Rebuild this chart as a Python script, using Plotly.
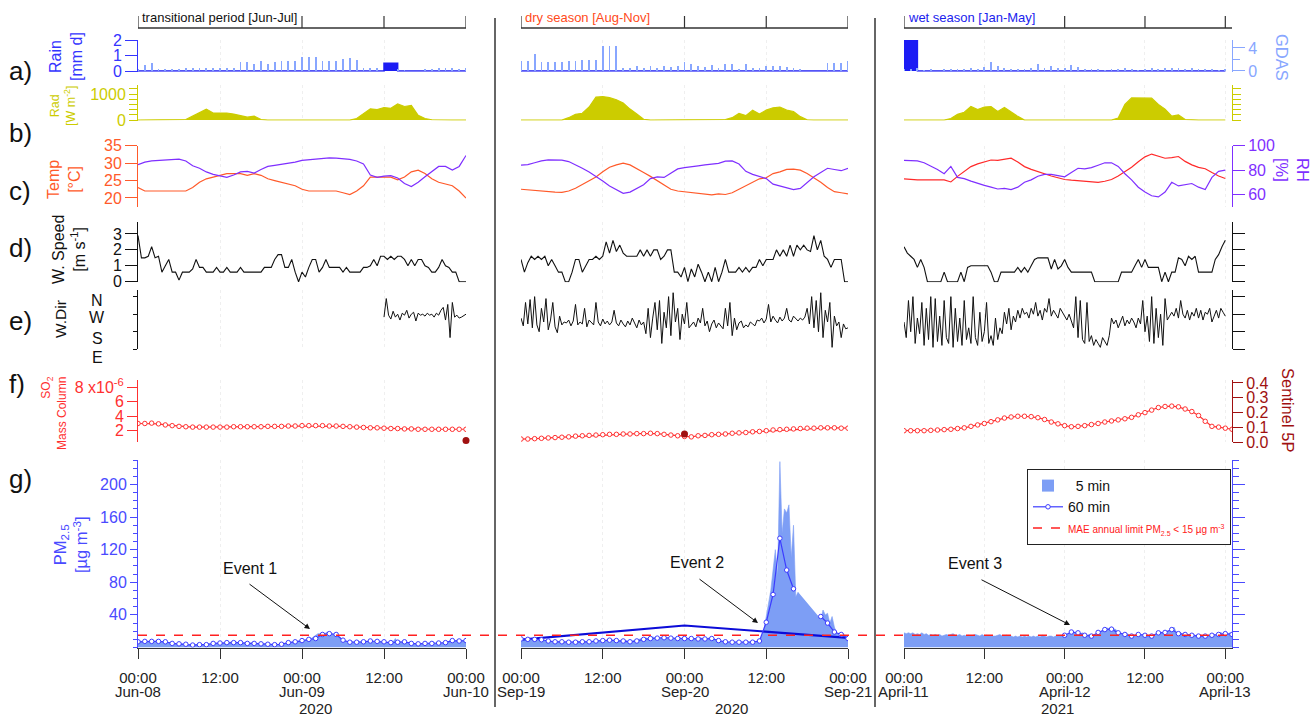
import plotly.graph_objects as go
import pandas as pd

W, H = 1312, 716
FONT = "Liberation Sans, Arial, sans-serif"


def px(x):
    return x / W


def py(y):
    return 1 - y / H


# ------------------------------------------------------------------ data
col_starts = ["2020-06-08 00:00", "2020-09-19 00:00", "2021-04-11 00:00"]
col_ends = ["2020-06-10 00:00", "2020-09-21 00:00", "2021-04-13 01:00"]
bottom_tick_labels = ["00:00", "12:00", "00:00", "12:00", "00:00"]
date_labels = [["Jun-08", "Jun-09", "Jun-10"],
               ["Sep-19", "Sep-20", "Sep-21"],
               ["April-11", "April-12", "April-13"]]
date_label_hours = [0, 24, 48]
year_labels = ["2020", "2020", "2021"]
season_labels = ["transitional period [Jun-Jul]", "dry season [Aug-Nov]", "wet season [Jan-May]"]
top_tick_hours = [0, 24, 36, 48]

# a) rain (hourly, mm d) and GDAS (hourly)
rain_c1 = [0,0,0,0,0,0,0,0,0,0,0,0, 0,0,0,0,0,0,0,0,0,0,0,0, 0,0,0,0,0,0,0,0,0,0,0,0, 0.5,0.5,0,0,0,0,0,0,0,0,0,0, 0]
rain_c2 = [0,0,0,0,0,0,0,0,0,0,0,0, 0,0,0,0,0,0,0,0,0,0,0,0, 0,0,0,0,0,0,0,0,0,0,0,0, 0,0,0,0,0,0,0,0,0,0,0,0, 0]
rain_c3 = [2.2,2.2,0,0,0,0,0,0,0,0,0,0, 0,0,0,0,0,0,0,0,0,0,0,0, 0,0,0,0,0,0,0,0,0,0,0,0, 0,0,0,0,0,0,0,0,0,0,0,0, 0]
gdas_c1 = [0.3,1.0,1.45,0.35,0.35,0.35,0.35,0.45,0.55,0.55,0.55,0.55, 0.55,0.55,0.55,1.6,1.6,1.3,1.75,1.3,1.6,1.75,1.75,1.75,
           2.5,2.5,2.4,1.75,1.75,1.75,2.0,2.2,1.9,0.45,0.45,0.45, 0,0,0.35,0.17,0,0,0.35,0.35,0.45,0.55,0.45,0.35, 0.45]
gdas_c2 = [1.75,1.75,2.9,1.6,1.6,1.6,1.6,1.75,1.75,1.9,1.9,1.9, 4.4,4.4,4.4,0.6,0.5,0.8,0.6,0.9,0.6,0.8,0.7,0.9,
           1.6,1.3,0.8,0.7,1.0,0.6,1.3,1.3,0.3,1.2,0.5,0.6, 0.8,0.9,0.8,0.7,0.6,0.2,0,0,0,1.45,1.45,1.45, 1.75]
gdas_c3 = [0.3,0.4,0.5,0.1,0.2,0.0,0.3,0.3,0.4,0.3,0.5,0.3, 0.7,1.6,0.9,0.5,0.4,0.2,0.3,0.6,1.3,0.6,0.8,0.5,
           0.6,1.0,0.7,0.4,0.3,0.2,0.1,0.2,0.4,0.6,0.3,0.1, 0.2,0.5,0.4,0.6,0.5,0.6,0.3,0.6,0.4,0.2,0.3,0.1, 0.2]

# b) radiation (hourly, W m-2)
rad_c1 = [0,0,0,0,0,0,0,20,150,300,420,270, 260,270,230,170,110,150,20,0,0,0,0,0,
          0,0,0,0,0,0,0,0,60,250,430,400, 480,450,620,520,560,180,60,10,0,0,0,0, 0]
rad_c2 = [0,0,0,0,0,0,0,90,220,260,500,880, 900,860,780,650,420,230,30,0,0,0,0,0,
          0,0,0,0,0,0,20,90,250,170,380,230, 380,470,500,380,330,130,10,0,0,0,0,0, 0]
rad_c3 = [0,0,0,0,0,0,0,60,220,300,520,400, 500,520,330,480,300,140,0,0,0,0,0,0,
          0,0,0,0,0,0,0,0,80,600,850,840, 830,840,600,420,150,200,20,0,0,0,0,0, 0]

# c) temperature (°C) and RH (%), hourly
temp_c1 = [23,22,22,22,22,22,22,22,23,24.5,25.5,26, 26.5,27,27,27,26.5,27,26.5,25.5,25,24.5,24,23.5,
           22.5,22,22,22,22,22,21.5,21,22,23.5,26,26, 26,26,25.2,26,27.5,28,27,25.5,24.5,24,23.5,22, 20]
rh_c1 = [84.5,86.5,87.5,88,88.3,88.8,89,87.5,83.5,81.5,78.5,76.5, 75,74,76,78.5,79,77.5,80.5,83,83.8,84.5,85.5,86.5,
         88,88.5,89.3,89.8,90,89.8,89.3,88.8,87.5,85,76,74, 75,75.5,73.5,69,66.5,70,74.5,79,83,83,80,83, 92]
temp_c2 = [22.5,22.3,22.2,22,21.8,21.7,21.6,22,22.8,23.8,24.8,26, 27.5,28.8,29.5,30,29.5,28.5,27.3,26.2,25,23.8,22.5,22,
           21.8,21.5,21.5,21.2,20.9,21.2,21,21.5,22.5,23.5,24.5,25.5, 25.8,27,27.5,28.2,28.3,28,27,25.8,24.5,23,21.8,21.5, 21.2]
rh_c2 = [84,84.5,86,87.5,88.3,88.5,88.2,87,84.5,81.5,78.5,75, 71,67,64,61,62,65,68,73,74.5,74,77.5,81,
         82,83,83.5,84.3,85,85.5,87.3,87.5,85,79,76.5,75, 73,68.5,67,66,64,65,70,74.5,78,81.5,80.5,79.5, 81.5]
temp_c3 = [25.5,25.3,25.2,25.2,25.3,25.2,25.2,24.6,26.2,27.5,29,29.8, 30.3,30.9,30.8,31.2,31.4,30.3,29,28.2,27.5,26.8,26.3,25.8,
           25.3,25.1,24.9,24.7,24.5,24.5,24.8,25.3,26.3,27.5,28.8,30.4, 31.8,32.6,32,31.4,31.6,31.9,30.5,29.5,28.8,28.4,27.3,26.3, 25.6]
rh_c3 = [88,88,87.5,86,83.5,80.5,77,83,74,73,71,69, 67.5,66,64.5,65,64,66,70,72,75,76.5,76.5,75.5,
         74.5,78,81.5,81,82,84,86,86,83,77,72,66, 62,59,58,62,70,67,68,69,66,64,74,79, 80]

# d) wind speed (30-min, m s-1)
ws_c1 = [2.9,1.5,1.5,1.6,2.2,1.5,1.6,0.6,1.0,1.4,0.6,0.6, 0.1,0.6,0.6,0.6,0.8,1.4,0.9,0.9,0.6,0.6,0.6,0.9,
         0.6,0.6,0.9,0.6,0.6,0.6,0.9,0.6,0.6,0.6,0.6,0.6, 0.6,0.9,0.9,0.9,1.4,1.7,1.7,0.9,0.9,1.4,0.6,0.0,
         0.6,0.3,0.9,1.4,1.4,0.6,0.9,1.4,0.9,0.9,0.9,0.9, 0.6,0.9,0.6,0.6,0.6,0.6,0.9,0.9,1.0,1.4,1.0,1.6,
         1.6,1.4,1.6,1.4,1.6,1.6,1.4,1.0,1.4,1.0,1.4,1.4, 1.0,0.9,0.6,0.6,0.9,1.4,1.0,0.9,0.6,0.6,0.0,0.0, 0.0]
ws_c2 = [1.4,0.6,1.2,1.6,1.4,1.6,1.4,1.6,1.0,1.4,1.0,0.6, 0.6,0.0,0.0,0.6,1.4,1.4,0.6,1.0,1.4,1.4,1.6,1.4,
         1.6,2.5,1.8,2.6,1.9,2.3,1.8,1.6,1.6,1.6,1.6,2.0, 1.6,2.0,1.6,2.0,2.0,1.4,1.6,2.0,2.0,0.6,0.6,0.3,
         0.9,0.0,0.8,0.3,1.1,0.6,0.0,0.6,0.0,0.9,0.0,0.6, 1.4,0.6,0.6,0.6,0.9,0.6,0.9,0.6,0.9,0.9,1.4,1.0,
         1.4,1.4,1.4,2.0,1.6,2.0,1.6,2.3,1.6,2.3,2.0,2.3, 2.0,1.9,2.9,2.0,2.6,1.6,1.4,0.9,1.4,1.4,1.4,0.0, 0.0]
ws_c3 = [2.2,1.8,1.6,1.4,0.9,1.4,0.9,0.0,0.0,0.0,0.0,0.0, 0.6,0.0,0.0,0.0,0.0,0.6,0.0,0.9,1.0,1.0,1.0,1.0,
         1.0,1.0,0.6,0.0,0.0,0.6,0.6,0.6,0.6,0.6,0.9,0.6, 0.9,0.6,1.0,1.4,1.5,1.5,1.5,1.5,0.8,1.4,0.8,1.0,
         1.4,0.9,0.6,0.6,0.6,0.6,0.6,0.6,0.6,0.0,0.0,0.0, 0.0,0.0,0.0,0.0,0.0,0.6,0.6,0.6,0.6,1.0,1.4,0.9,
         1.4,0.9,0.9,0.9,0.9,0.0,0.6,0.0,0.6,0.6,1.5,1.4, 1.0,1.6,1.4,1.6,0.6,0.6,0.6,0.6,0.6,1.4,1.7,2.2, 2.6]

# e) wind direction (20-min, degrees); column 1 starts at Jun-09 12:00
wd_c1_start_h = 36
wd_c1 = [255,350,265,245,285,255,270,240,275,265,290,250, 270,280,235,275,265,270,260,275,265,270,255,275,
         265,290,305,240,320,150,330,255,265,250,255,265, 270]
wd_c2 = [250,210,330,220,345,200,360,215,180,300,230,350,190,240,330,205,175,260,215,230,
         225,240,210,235,320,215,230,220,300,205,240,225,215,330,230,210,245,220,235,215,
         230,290,225,210,240,220,205,235,215,250,225,200,240,215,230,
         170,300,150,250,330,190,340,120,280,200,360,160,380,230,300,140,270,220,330,200,
         215,230,205,250,225,300,210,235,180,220,240,200,225,210,195,
         300,210,330,160,250,190,225,235,200,215,205,230,220,210,240,
         235,250,225,245,320,230,260,240,225,255,235,250,300,240,230,260,245,235,250,240,
         255,300,220,360,200,340,180,380,150,290,230,330,100,260,210,230,150,220,195,200]
wd_c3 = [230,150,340,180,360,120,250,170,330,110,300,140,360,100,350,130,260,110,340,150,
         120,360,100,300,130,250,110,340,140,200,120,360,150,110,280,130,180,330,120,160,
         110,250,140,200,170,280,220,300,190,260,230,290,250,300,270,
         280,250,300,270,330,260,290,240,300,280,350,260,290,270,250,300,280,260,240,270,
         230,200,360,150,340,140,120,330,130,160,110,140,120,100,150,
         130,110,160,250,220,240,200,230,260,210,240,220,250,230,200,
         250,220,340,180,260,130,360,120,300,150,270,110,350,240,260,
         280,260,300,250,340,270,250,290,240,280,260,300,250,290,240,280,270,300,230,260,290,250,300,280,260]

# f) SO2 mass column (hourly, x1e-6) and Sentinel 5P points
so2_c1_x1e6 = [3.0,3.0,3.05,2.95,2.8,2.7,2.6,2.55,2.5,2.5,2.5,2.5, 2.5,2.5,2.55,2.55,2.55,2.55,2.55,2.6,2.6,2.6,2.65,2.65,
               2.7,2.7,2.7,2.7,2.65,2.65,2.6,2.55,2.5,2.45,2.4,2.4, 2.35,2.3,2.3,2.25,2.25,2.2,2.2,2.2,2.2,2.2,2.2,2.2, 2.2]
so2_c2_x1e6 = [0.85,0.85,0.9,0.95,1.0,1.05,1.1,1.15,1.25,1.3,1.35,1.4, 1.45,1.5,1.5,1.55,1.55,1.6,1.6,1.65,1.6,1.5,1.4,1.3,
               1.2,1.15,1.3,1.35,1.45,1.5,1.55,1.65,1.7,1.75,1.85,1.9, 2.0,2.1,2.15,2.2,2.25,2.3,2.35,2.35,2.4,2.4,2.4,2.35, 2.35]
so2_c3_x1e6 = [2.0,2.0,2.0,2.0,2.05,2.1,2.15,2.2,2.3,2.4,2.6,2.8, 3.0,3.25,3.5,3.75,3.9,4.0,4.0,3.95,3.8,3.55,3.2,2.95,
               2.7,2.55,2.6,2.7,2.85,3.0,3.2,3.35,3.5,3.65,3.85,4.2, 4.5,4.85,5.2,5.35,5.4,5.3,5.0,4.65,4.1,3.3,2.6,2.5, 2.35,2.2]
sentinel_hours = [[48], [24], []]
sentinel_vals = [[0.01], [0.055], []]

# g) PM2.5: 5-min record (shown at 20-min steps), 60-min means, daily line
pm5_c1 = [7,8,7, 8,8,7, 8,7,8, 8,7,7, 7,6,6, 5,5,4, 4,5,4, 4,3,4, 3,3,4, 3,4,3, 4,4,4, 5,5,5,
          6,5,6, 6,6,7, 6,7,6, 6,5,6, 5,5,6, 5,4,5, 4,4,5, 4,4,3, 3,4,4, 4,5,5, 6,6,7, 7,8,8,
          9,9,10, 10,11,13, 15,17,17, 18,17,19, 18,17,16, 17,14,11, 9,8,7, 6,7,6, 6,7,7, 7,8,7, 8,7,8, 7,8,7,
          7,6,6, 6,7,11, 6,7,6, 7,6,6, 5,5,4, 5,4,5, 5,5,5, 5,6,5, 6,5,6, 6,7,8, 9,8,9, 8,9,8, 9]
pm5_c2 = [11,10,11, 10,10,11, 10,9,10, 9,8,9, 7,8,7, 7,8,7, 6,7,6, 7,6,7, 7,8,7, 7,8,7, 8,7,8, 9,8,9,
          9,8,9, 10,9,9, 9,8,9, 8,9,8, 7,8,9, 10,10,11, 11,12,11, 12,13,12, 12,11,12, 13,12,11, 11,12,11, 11,12,11,
          11,12,11, 11,10,11, 11,12,11, 10,11,12, 12,11,9, 8,7,7, 6,7,6, 7,6,7, 6,6,7, 6,7,6, 7,6,7, 9,14,22,
          38,52,70, 95,120,88, 228,140,170, 165,175,110, 150,62,68, None,None,None, None,None,None, None,None,None,
          35,46,40, 42,30,38, 25,18,16, 14,17,13, 12]
pm5_c3 = [18,17,18, 17,18,16, 17,16,18, 16,17,15, 16,15,16, 15,16,14, 15,16,15, 16,17,15, 15,16,14, 15,14,15, 14,15,16, 15,14,16,
          14,15,14, 15,14,14, 15,16,14, 14,15,14, 14,13,14, 13,14,13, 14,13,14, 13,14,13, 14,13,15, 14,13,14, 14,13,14, 14,15,14,
          15,16,17, 19,18,19, 18,17,18, 16,15,16, 14,15,16, 18,20,21, 22,24,23, 25,23,22, 19,18,17, 16,17,15, 14,15,14, 16,15,16,
          15,14,15, 14,15,16, 18,19,18, 19,20,21, 22,25,19, 17,18,16, 16,15,16, 15,16,14, 14,15,14, 14,13,15, 15,16,14, 16,19,15,
          17,16,18, 16]
pm60_c1 = [7,7.5,7.5,7.5,7,5,4.5,4,3,3.5,3.5,5, 5.5,6,6,6,5,5,4.5,4,3.5,4,6,7,
           8.5,10,11,16,17,16,9,6.5,6.5,7,8,7.5, 7,6,6.5,7,5,4.5,5,5,5.5,6,8.5,8, 8.5]
pm60_c2 = [10.5,10,10,9.5,8,7,7,6.5,6.5,7,7,8, 8.5,9,8.5,8,7,8,10,11,11.5,12,11.5,11,
           11,11,10.5,10.5,11,8.5,7,6.5,6.5,6.5,6.5,8, 31,65,134,95,72,None,None,None,38,30,19,16, 11]
pm60_c3_start_h = 24
pm60_c3 = [15,19,18,15,14,18.5,22,22.5,18,16,14,16, 15,14,18,18.5,22,17,16,15,14,14,15,16, 17,16]
pm_daily_c2_hours = [0, 24, 48]
pm_daily_c2 = [9.7, 27, 11.8]
pm_limit = 15

rain = [rain_c1, rain_c2, rain_c3]
gdas = [gdas_c1, gdas_c2, gdas_c3]
rad = [rad_c1, rad_c2, rad_c3]
temp = [temp_c1, temp_c2, temp_c3]
rh = [rh_c1, rh_c2, rh_c3]
ws = [ws_c1, ws_c2, ws_c3]
wd = [wd_c1, wd_c2, wd_c3]
wd_start = [wd_c1_start_h, 0, 0]
so2 = [so2_c1_x1e6, so2_c2_x1e6, so2_c3_x1e6]
pm5 = [pm5_c1, pm5_c2, pm5_c3]
pm60 = [pm60_c1, pm60_c2, pm60_c3]
pm60_start = [0, 0, pm60_c3_start_h]

# ------------------------------------------------------------------ style
RAIN_AX = "#3434ff"
RAIN_FILL = "#1c1cf4"
GDAS = "#88a6ff"
RAD = "#cccc00"
TEMP = ["#ff5a2a", "#ff5a2a", "#ff2a2a"]
TEMP_AX = "#ff5a2a"
RH = "#7f2fff"
SO2 = "#ff3030"
SENT = "#a01010"
PM5 = "#7d9ef5"
PM60 = "#3c3cff"
PMDAY = "#0c0cd8"
PMAX = "#4a4aff"
BLACK = "#111111"

col_px = [(138, 466), (521, 848), (904, 1232)]
row_px = {0: (40, 71.8), 1: (85, 120.5), 2: (145.7, 206.7), 3: (221.7, 282.2),
          4: (290, 349.3), 5: (380, 442), 6: (460, 647.5)}


def times(c, n, step_min, offset_h=0):
    return pd.date_range(pd.Timestamp(col_starts[c]) + pd.Timedelta(hours=offset_h),
                         periods=n, freq=f"{step_min}min")


def n_of(c, k):
    return c * 10 + k + 1


def yr(c, k):
    n = n_of(c, k)
    return "y" if n == 1 else f"y{n}"


def yl(c, k):
    n = n_of(c, k)
    return "yaxis" if n == 1 else f"yaxis{n}"


def xr(c):
    return "x" if c == 0 else f"x{c + 1}"


def xl(c):
    return "xaxis" if c == 0 else f"xaxis{c + 1}"


fig = go.Figure()

for c in range(3):
    X = xr(c)
    # a) rain + GDAS
    fig.add_trace(go.Bar(x=times(c, len(gdas[c]), 60), y=gdas[c], width=450000,
                         marker=dict(color=GDAS, line=dict(width=0)),
                         xaxis=X, yaxis=yr(c, 7), showlegend=False))
    fig.add_trace(go.Scatter(x=times(c, len(rain[c]), 60), y=rain[c], mode="lines",
                             line=dict(color=RAIN_FILL, width=1.5, shape="hv"),
                             fill="tozeroy", fillcolor=RAIN_FILL,
                             xaxis=X, yaxis=yr(c, 0), showlegend=False))
    # b) radiation
    fig.add_trace(go.Scatter(x=times(c, len(rad[c]), 60), y=rad[c], mode="lines",
                             line=dict(color=RAD, width=1.2), fill="tozeroy", fillcolor=RAD,
                             xaxis=X, yaxis=yr(c, 1), showlegend=False))
    # c) temperature + RH
    fig.add_trace(go.Scatter(x=times(c, len(temp[c]), 60), y=temp[c], mode="lines",
                             line=dict(color=TEMP[c], width=1.2),
                             xaxis=X, yaxis=yr(c, 2), showlegend=False))
    fig.add_trace(go.Scatter(x=times(c, len(rh[c]), 60), y=rh[c], mode="lines",
                             line=dict(color=RH, width=1.2),
                             xaxis=X, yaxis=yr(c, 8), showlegend=False))
    # d) wind speed
    fig.add_trace(go.Scatter(x=times(c, len(ws[c]), 30), y=ws[c], mode="lines",
                             line=dict(color=BLACK, width=1.1),
                             xaxis=X, yaxis=yr(c, 3), showlegend=False))
    # e) wind direction
    fig.add_trace(go.Scatter(x=times(c, len(wd[c]), 20, wd_start[c]), y=wd[c], mode="lines",
                             line=dict(color=BLACK, width=1.0),
                             xaxis=X, yaxis=yr(c, 4), showlegend=False))
    # f) SO2 + Sentinel
    fig.add_trace(go.Scatter(x=times(c, len(so2[c]), 60), y=so2[c], mode="lines+markers",
                             line=dict(color=SO2, width=1.2),
                             marker=dict(symbol="circle", size=4.5, color="white",
                                         line=dict(color=SO2, width=1)),
                             xaxis=X, yaxis=yr(c, 5), showlegend=False))
    st = [pd.Timestamp(col_starts[c]) + pd.Timedelta(hours=h) for h in sentinel_hours[c]]
    fig.add_trace(go.Scatter(x=st, y=sentinel_vals[c], mode="markers",
                             marker=dict(color=SENT, size=7),
                             xaxis=X, yaxis=yr(c, 9), showlegend=False, cliponaxis=False))
    # g) PM2.5
    fig.add_trace(go.Scatter(x=times(c, len(pm5[c]), 20), y=pm5[c], mode="lines",
                             line=dict(color=PM5, width=0.6), fill="tozeroy", fillcolor=PM5,
                             xaxis=X, yaxis=yr(c, 6), showlegend=False))
    if c == 1:
        dt = [pd.Timestamp(col_starts[c]) + pd.Timedelta(hours=h) for h in pm_daily_c2_hours]
        fig.add_trace(go.Scatter(x=dt, y=pm_daily_c2, mode="lines",
                                 line=dict(color=PMDAY, width=2.2),
                                 xaxis=X, yaxis=yr(c, 6), showlegend=False))
    fig.add_trace(go.Scatter(x=times(c, len(pm60[c]), 60, pm60_start[c]), y=pm60[c],
                             mode="lines+markers", line=dict(color=PM60, width=1.2),
                             marker=dict(symbol="circle", size=4.5, color="white",
                                         line=dict(color=PM60, width=1)),
                             name="60 min", legendrank=2,
                             xaxis=X, yaxis=yr(c, 6), showlegend=(c == 2)))

# legend-only swatch for the 5-min record (drawn as filled area above)
fig.add_trace(go.Bar(x=[None], y=[None], name="&nbsp;&nbsp;5 min", legendrank=1,
                     marker=dict(color=PM5, line=dict(width=0)),
                     xaxis="x3", yaxis=yr(2, 6), showlegend=True))

# ------------------------------------------------------------------ axes
AX = {
    0: dict(range=[-0.05, 2], tickvals=[0, 1, 2], color=RAIN_AX, ticklen=12),
    1: dict(range=[-18, 1346], tickvals=[0, 200, 400, 600, 800, 1000, 1200],
            ticktext=["0", "", "", "", "", "1000", ""], color=RAD, ticklen=8),
    2: dict(range=[17.5, 35], tickvals=[20, 25, 30, 35], color=TEMP_AX, ticklen=12),
    3: dict(range=[-0.03, 3.77], tickvals=[0, 1, 2, 3], color=BLACK, ticklen=12),
    4: dict(range=[90, 394], tickvals=[90, 180, 270, 360], color=BLACK, ticklen=4),
    5: dict(range=[0.44, 9.01], tickvals=[2, 4, 6, 8],
            ticktext=["2", "4", "6", "8 x10<sup>-6</sup>"], color=SO2, ticklen=10),
    6: dict(range=[0, 230], tickvals=[40, 80, 120, 160, 200], color=PMAX, ticklen=7),
    7: dict(range=[-0.14, 5.39], tickvals=[0, 4], color=GDAS, ticklen=12),
    8: dict(range=[50, 100], tickvals=[60, 80, 100], color=RH, ticklen=12),
    9: dict(range=[0, 0.42], tickvals=[0, 0.1, 0.2, 0.3, 0.4],
            ticktext=["0.0", "0.1", "0.2", "0.3", "0.4"], color=SENT, ticklen=10),
}
overlay_of = {7: 0, 8: 2, 9: 5}

# visibility: (visible, side, show labels, ticklen override)
VIS = {0: {k: (True, "left", k != 4, None) for k in range(7)},
       1: {},
       2: {1: (True, "right", False, None), 3: (True, "right", False, None),
           4: (True, "right", False, 12), 6: (True, "right", False, 12),
           7: (True, "right", True, None), 8: (True, "right", True, None),
           9: (True, "right", True, None)}}

layout_axes = {}
for c in range(3):
    s, e = pd.Timestamp(col_starts[c]), pd.Timestamp(col_ends[c])
    tv = [s + pd.Timedelta(hours=12 * i) for i in range(5)]
    layout_axes[xl(c)] = dict(
        type="date", domain=[px(col_px[c][0]), px(col_px[c][1])], range=[s, e],
        anchor=yr(c, 6), tickvals=tv, ticktext=bottom_tick_labels, automargin=False,
        ticks="outside", ticklen=10, tickcolor="#333", showline=True, linecolor="#333",
        linewidth=1, showgrid=True, gridcolor="#efefef", griddash="dot", zeroline=False,
        ticklabelstandoff=6,
        tickfont=dict(size=15, family=FONT, color="#222"), fixedrange=True)
    for k in range(10):
        spec = AX[k]
        vis = VIS[c].get(k, (False, "left", False, None))
        ax = dict(range=spec["range"], anchor=xr(c), showgrid=False, zeroline=False,
                  fixedrange=True, visible=vis[0], side=vis[1], automargin=False,
                  tickvals=spec["tickvals"], ticks="outside",
                  ticklen=vis[3] if vis[3] else spec["ticklen"],
                  tickcolor=spec["color"], showline=True, linecolor=spec["color"], linewidth=1,
                  showticklabels=vis[2],
                  tickfont=dict(size=16, family=FONT, color=spec["color"]))
        if "ticktext" in spec:
            ax["ticktext"] = spec["ticktext"]
        if k in overlay_of:
            ax["overlaying"] = yr(c, overlay_of[k])
        else:
            t, b = row_px[k]
            ax["domain"] = [py(b), py(t)]
        if k == 6:
            ax["minor"] = dict(dtick=10, tick0=0, ticks="outside",
                               ticklen=4 if c == 0 else 6, tickcolor=spec["color"])
        if k == 7:
            ax["minor"] = dict(tickvals=[2], ticks="outside", ticklen=7, tickcolor=spec["color"])
        layout_axes[yl(c, k)] = ax

# ------------------------------------------------------------------ shapes
shapes = []
for xs in (495, 875):
    shapes.append(dict(type="line", xref="paper", yref="paper", x0=px(xs), x1=px(xs),
                       y0=py(18), y1=py(707), line=dict(color="#333", width=1.5)))
for c in range(3):
    s = pd.Timestamp(col_starts[c])
    shapes.append(dict(type="line", xref=xr(c), yref="paper", x0=s, x1=pd.Timestamp(col_ends[c]),
                       y0=py(28), y1=py(28), line=dict(color="#333", width=1.5)))
    for h in top_tick_hours:
        t = s + pd.Timedelta(hours=h)
        shapes.append(dict(type="line", xref=xr(c), yref="paper", x0=t, x1=t,
                           y0=py(16), y1=py(28), line=dict(color="#333", width=1.2)))
shapes.append(dict(type="line", xref="paper", x0=px(138), x1=px(1232), yref=yr(0, 6),
                   y0=pm_limit, y1=pm_limit, line=dict(color="#ff2020", width=1.3, dash="dash"),
                   showlegend=True, legendrank=3,
                   name='<span style="font-size:10px;color:#ff2020">MAE annual limit PM<sub>2.5</sub> &lt; 15 µg m<sup>-3</sup></span>'))

# ------------------------------------------------------------------ annotations
ann = []


def text(t, x, y, size, color=BLACK, angle=0, xanchor="center", yanchor="middle", align="center"):
    ann.append(dict(text=t, x=px(x), y=py(y), xref="paper", yref="paper", showarrow=False,
                    font=dict(size=size, family=FONT, color=color), textangle=angle,
                    xanchor=xanchor, yanchor=yanchor, align=align))


for lab, y in zip(["a)", "b)", "c)", "d)", "e)", "f)", "g)"], [71, 133, 191, 248, 321, 384, 479]):
    text(lab, 7, y, 26, BLACK, xanchor="left")

text("Rain<br>[mm d]", 66, 57, 16, RAIN_AX, -90)
text("Rad<br>[W m<sup>-2</sup>]", 63, 106, 12.5, RAD, -90)
text("Temp<br>[°C]", 64, 180, 16, TEMP_AX, -90)
text("W. Speed<br>[m s<sup>-1</sup>]", 69, 250, 16, BLACK, -90)
text("W.Dir", 60, 319, 15.5, BLACK, -90)
text("SO<sub>2</sub><br>Mass Column", 54, 413, 12, SO2, -90, align="right")
text("PM<sub>2.5</sub><br>[µg m<sup>-3</sup>]", 70, 545, 16.5, PMAX, -90)
text("GDAS", 1282, 57, 16.5, GDAS, 90)
text("RH<br>[%]", 1293, 170, 16.5, RH, 90)
text("Sentinel 5P", 1288, 410, 16.5, SENT, 90)
for lab, y in zip(["N", "W", "S", "E"], [301, 318, 338, 357]):
    text(lab, 97, y, 16, BLACK)

season_colors = [BLACK, "#ff4a1a", "#1a22ee"]
for c in range(3):
    ann.append(dict(text=season_labels[c], x=pd.Timestamp(col_starts[c]), xref=xr(c),
                    y=py(27), yref="paper", xanchor="left", yanchor="bottom", xshift=2,
                    showarrow=False, font=dict(size=13, family=FONT, color=season_colors[c])))
    for lab, h in zip(date_labels[c], date_label_hours):
        ann.append(dict(text=lab, x=pd.Timestamp(col_starts[c]) + pd.Timedelta(hours=h), xref=xr(c),
                        y=py(691), yref="paper", xanchor="center", yanchor="middle",
                        showarrow=False, font=dict(size=15, family=FONT, color="#222")))

for lab, x in zip(year_labels, [315, 731, 1057]):
    text(lab, x, 708, 15, "#222")

# Event labels and arrows (head, tail in px)
events = [("Event 1", (250, 568), (248, 583), (310, 629)),
          ("Event 2", (697, 562), (698, 578), (758, 623)),
          ("Event 3", (975, 563), (980, 579), (1070, 625))]
for lab, tpos, tail, head in events:
    text(lab, tpos[0], tpos[1], 16, BLACK)
    ann.append(dict(text="", x=px(head[0]), y=py(head[1]), xref="paper", yref="paper",
                    showarrow=True, ax=tail[0] - head[0], ay=tail[1] - head[1],
                    arrowhead=2, arrowsize=1.1, arrowwidth=1, arrowcolor=BLACK))

fig.update_layout(
    width=W, height=H, autosize=False,
    margin=dict(l=0, r=0, t=0, b=0, pad=0, autoexpand=False),
    paper_bgcolor="white", plot_bgcolor="white",
    font=dict(family=FONT, size=15, color=BLACK),
    showlegend=True,
    legend=dict(x=px(1027), y=py(469), xanchor="left", yanchor="top",
                bordercolor="#222", borderwidth=1, bgcolor="white",
                font=dict(size=14, family=FONT, color=BLACK), tracegroupgap=0,
                itemwidth=30),
    shapes=shapes, annotations=ann, bargap=0, barmode="overlay",
    **layout_axes,
)

fig.write_html("out.html", config={"displayModeBar": False},
               post_script="document.body.style.margin='0';")
